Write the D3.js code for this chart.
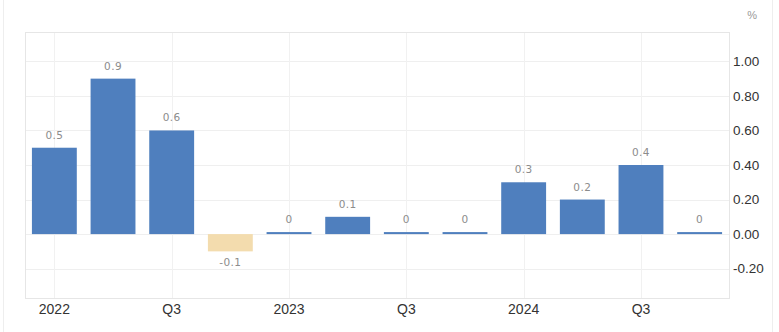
<!DOCTYPE html>
<html>
<head>
<meta charset="utf-8">
<script src="https://cdn.jsdelivr.net/npm/d3@7"></script>
<style>
  html, body { margin: 0; padding: 0; background: #fff; }
  svg { display: block; }
</style>
</head>
<body>
<svg id="chart" width="779" height="332"></svg>
<script>
const categories = ["2022Q1","2022Q2","2022Q3","2022Q4","2023Q1","2023Q2","2023Q3","2023Q4","2024Q1","2024Q2","2024Q3","2024Q4"];
const values = [0.5, 0.9, 0.6, -0.1, 0, 0.1, 0, 0, 0.3, 0.2, 0.4, 0];
const valueLabels = ["0.5","0.9","0.6","-0.1","0","0.1","0","0","0.3","0.2","0.4","0"];
const xTickCats = ["2022Q1","2022Q3","2023Q1","2023Q3","2024Q1","2024Q3"];
const xTickLabels = ["2022","Q3","2023","Q3","2024","Q3"];
const yTicks = [-0.2, 0, 0.2, 0.4, 0.6, 0.8, 1.0];
const yDomain = [-0.37, 1.17];

(function () {
const svg = d3.select("#chart");
const pLeft = 25, pRight = 729, pTop = 32, pBottom = 298;

// outer faint frame
svg.append("line").attr("x1",3.5).attr("x2",3.5).attr("y1",0).attr("y2",332).attr("stroke","#eeeeee");
svg.append("line").attr("x1",772.5).attr("x2",772.5).attr("y1",0).attr("y2",332).attr("stroke","#eeeeee");

const x = d3.scaleBand().domain(categories).range([pLeft, pRight]).paddingInner(0.235).paddingOuter(0.118);
const y = d3.scaleLinear().domain(yDomain).range([pBottom, pTop]);

// grid horizontal
svg.append("g").selectAll("line").data(yTicks).join("line")
  .attr("x1", pLeft).attr("x2", pRight)
  .attr("y1", d => Math.round(y(d)) + 0.5).attr("y2", d => Math.round(y(d)) + 0.5)
  .attr("stroke", "#efefef").attr("stroke-width", 1);
// grid vertical
svg.append("g").selectAll("line").data(xTickCats).join("line")
  .attr("x1", d => Math.round(x(d) + x.bandwidth()/2) + 0.5)
  .attr("x2", d => Math.round(x(d) + x.bandwidth()/2) + 0.5)
  .attr("y1", pTop).attr("y2", pBottom)
  .attr("stroke", "#f1f1f1").attr("stroke-width", 1);
// plot frame
svg.append("rect").attr("x", pLeft + 0.5).attr("y", pTop + 0.5)
  .attr("width", pRight - pLeft).attr("height", pBottom - pTop)
  .attr("fill", "none").attr("stroke", "#e6e6e6");

// bars
const minH = 2;
svg.append("g").selectAll("rect").data(values).join("rect")
  .attr("x", (d, i) => x(categories[i]))
  .attr("width", x.bandwidth())
  .attr("y", d => d >= 0 ? Math.min(y(d), y(0) - minH) : y(0))
  .attr("height", d => d >= 0 ? Math.max(y(0) - y(d), minH) : y(d) - y(0))
  .attr("fill", d => d < 0 ? "#f3dcae" : "#4f7fbe");

// value labels
svg.append("g").selectAll("text").data(values).join("text")
  .attr("x", (d, i) => x(categories[i]) + x.bandwidth()/2)
  .attr("y", d => d >= 0 ? Math.min(y(d), y(0) - minH) - 9 : y(d) + 15)
  .attr("text-anchor", "middle")
  .attr("font-family", "'DejaVu Sans', sans-serif")
  .attr("font-size", 10.5)
  .attr("letter-spacing", 0.4)
  .attr("fill", "#8c8c8c")
  .text((d, i) => valueLabels[i]);

// y axis labels
const yAxis = d3.axisRight(y).tickValues(yTicks).tickFormat(d => d3.format(".2f")(d).replace("\u2212", "-")).tickSize(0).tickPadding(0);
const gy = svg.append("g").attr("transform", `translate(${pRight + 4},0)`).call(yAxis);
gy.select(".domain").remove();
gy.selectAll("text").attr("font-family", "'Liberation Sans', Arial, sans-serif").attr("font-size", 13.5).attr("fill", "#333").attr("dy", "0.32em");

// x axis labels
const xAxis = d3.axisBottom(x).tickValues(xTickCats).tickFormat(d => xTickLabels[xTickCats.indexOf(d)]).tickSize(0).tickPadding(0);
const gx = svg.append("g").attr("transform", `translate(0,${pBottom + 2})`).call(xAxis);
gx.select(".domain").remove();
gx.selectAll("text").attr("font-family", "'Liberation Sans', Arial, sans-serif").attr("font-size", 14).attr("fill", "#333").attr("dy", "1em");

// unit
svg.append("text").attr("x", 757).attr("y", 19).attr("text-anchor", "end")
  .attr("font-family", "'Liberation Sans', Arial, sans-serif").attr("font-size", 11).attr("fill", "#999").text("%");
})();
</script>
</body>
</html>
